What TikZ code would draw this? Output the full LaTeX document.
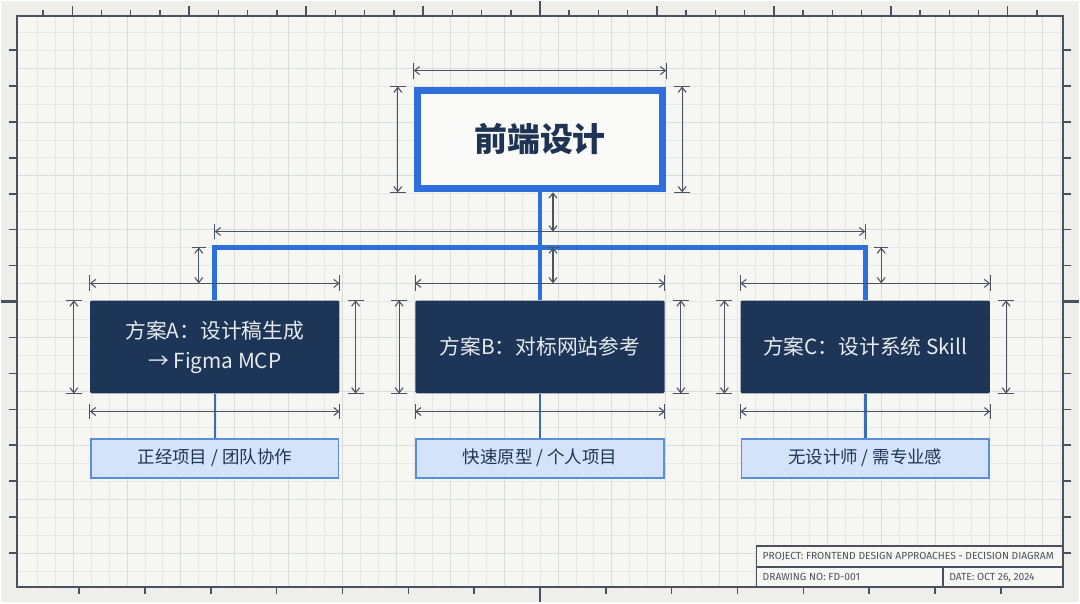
\documentclass[tikz,border=0pt]{standalone}
\usepackage{fontspec}
\setmainfont{Noto Sans CJK SC}
\newfontfamily\blockfont{Fira Sans}
\usetikzlibrary{arrows.meta,positioning,calc}
\definecolor{paper}{HTML}{F6F6F2}
\definecolor{margin}{HTML}{EEEEEA}
\definecolor{gridgray}{HTML}{E5E7E5}
\definecolor{gridmajor}{HTML}{D9DCDC}
\definecolor{framegray}{HTML}{4A5261}
\definecolor{dimgray}{HTML}{4B5362}
\definecolor{accent}{HTML}{2E6FDC}
\definecolor{navy}{HTML}{1D3557}
\definecolor{titlenavy}{HTML}{1F3455}
\definecolor{paleblue}{HTML}{D2E3FA}
\definecolor{lineblue}{HTML}{5A8EDB}
\definecolor{stemblue}{HTML}{3B6CB4}

% dimension lines between two named coordinates
\newcommand{\dimh}[2]{%
  \draw[dimline] (#1) -- (#2);
  \draw[dimbar] ([yshift=8]#1) -- ([yshift=-8]#1) ([yshift=8]#2) -- ([yshift=-8]#2);}
\newcommand{\dimv}[2]{%
  \draw[dimline] (#1) -- (#2);
  \draw[dimbar] ([xshift=-8]#1) -- ([xshift=8]#1) ([xshift=-8]#2) -- ([xshift=8]#2);}
\newcommand{\dimvtop}[2]{%
  \draw[dimline] (#1) -- (#2);
  \draw[dimbar] ([xshift=-7]#1) -- ([xshift=7]#1);}

\begin{document}
\begin{tikzpicture}[x=1pt,y=-1pt,
  every node/.style={inner sep=0pt},
  rootbox/.style={rectangle,draw=accent,line width=7pt,fill=paper!50!white,minimum width=246pt,minimum height=99pt,font=\fontsize{33}{38}\selectfont\bfseries,text=titlenavy},
  planbox/.style={rectangle,rounded corners=2pt,fill=navy,minimum width=250pt,minimum height=93pt,align=center,font=\fontsize{20.8}{30}\selectfont,text=white!90!navy},
  usebox/.style={rectangle,draw=lineblue,line width=1.8pt,fill=paleblue,minimum width=248pt,minimum height=39pt,font=\fontsize{17.5}{20}\selectfont,text=titlenavy},
  bus/.style={draw=accent,line width=5pt},
  stem/.style={draw=stemblue,line width=2.5pt},
  dimline/.style={draw=dimgray,line width=1.1pt,{Straight Barb[length=5pt,width=8pt]}-{Straight Barb[length=5pt,width=8pt]}},
  dimbar/.style={draw=dimgray,line width=1.1pt},
  gridline/.style={draw=gridgray,line width=0.8pt},
  gridline major/.style={draw=gridmajor,line width=0.9pt},
  frameline/.style={draw=framegray,line width=2pt},
  blocktext/.style={font=\blockfont\fontsize{10.3}{12}\selectfont,text=framegray,anchor=west}
]
% sheet, grid and frame
\fill[margin] (0,0) rectangle (1080,602);
\fill[paper] (16,15) rectangle (1064,587);
\foreach \gx in {36,54,...,1062} \draw[gridline] (\gx,15) -- (\gx,587);
\foreach \gy in {31,49,...,571} \draw[gridline] (16,\gy) -- (1064,\gy);
\foreach \gx in {72,126,...,1062} \draw[gridline major] (\gx,15) -- (\gx,587);
\foreach \gy in {67,121,...,571} \draw[gridline major] (16,\gy) -- (1064,\gy);
\draw[frameline] (16,15) rectangle (1064,587);
\foreach \k in {-17,...,17} \draw[frameline,line width=1.5pt] (540+29.3*\k,15) -- ++(0,-6);
\foreach \k in {-4,...,4} \draw[frameline,line width=1.5pt] (540+117.2*\k,15) -- ++(0,-10);
\foreach \k in {-7,...,7} \draw[frameline,line width=1.5pt] (540+66*\k,587) -- ++(0,7);
\foreach \k in {-7,...,7} {
  \draw[frameline,line width=1.5pt] (16,301+36*\k) -- ++(-8,0);
  \draw[frameline,line width=1.5pt] (1064,301+36*\k) -- ++(8,0);
}
\draw[frameline,line width=2.5pt] (540,0) -- (540,15) (540,587) -- (540,602) (0,301) -- (16,301) (1064,301) -- (1080,301);

% boxes
\node[rootbox] (root) at (540,138.5) {前端设计};
\node[planbox] (planA) at (214,346.5) {方案A：设计稿生成\\→ Figma MCP};
\node[planbox] (planB) at (540,346.5) {方案B：对标网站参考};
\node[planbox] (planC) at (866,346.5) {方案C：设计系统 Skill};
\node[usebox] (useA) at (214,458) {正经项目 / 团队协作};
\node[usebox] (useB) at (540,458) {快速原型 / 个人项目};
\node[usebox] (useC) at (866,458) {无设计师 / 需专业感};

% connectors
\coordinate (bus) at (540,247);
\draw[bus] (root.south) -- (bus);
\draw[bus] (planA.north) |- (bus) -| (planC.north);
\draw[bus] (bus) -- (planB.north);
\foreach \p in {A,B,C} \draw[stem] (plan\p.south) -- (use\p.north);

% dimensions
\coordinate (rt1) at ([yshift=16]root.north west);
\coordinate (rt2) at ([yshift=16]root.north east);
\dimh{rt1}{rt2}
\coordinate (rl1) at ([xshift=-16]root.north west);
\coordinate (rl2) at ([xshift=-16]root.south west);
\dimv{rl1}{rl2}
\coordinate (rr1) at ([xshift=16]root.north east);
\coordinate (rr2) at ([xshift=16]root.south east);
\dimv{rr1}{rr2}
\coordinate (rs1) at ([xshift=13]root.south);
\coordinate (rs2) at ([xshift=13,yshift=69]planB.north);
\draw[dimline] (rs1) -- (rs2);
\coordinate (bd1) at ([yshift=69]planA.north);
\coordinate (bd2) at ([yshift=69]planC.north);
\dimh{bd1}{bd2}
\foreach \p/\dx in {planA/-16,planB/13,planC/16} {
  \coordinate (\p-s1) at ([xshift=\dx,yshift=53]\p.north);
  \coordinate (\p-s2) at ([xshift=\dx,yshift=17]\p.north);
  \dimvtop{\p-s1}{\p-s2}
}
\foreach \p in {planA,planB,planC} {
  \coordinate (\p-t1) at ([yshift=17]\p.north west);
  \coordinate (\p-t2) at ([yshift=17]\p.north east);
  \dimh{\p-t1}{\p-t2}
  \coordinate (\p-b1) at ([yshift=-18]\p.south west);
  \coordinate (\p-b2) at ([yshift=-18]\p.south east);
  \dimh{\p-b1}{\p-b2}
  \coordinate (\p-l1) at ([xshift=-16]\p.north west);
  \coordinate (\p-l2) at ([xshift=-16]\p.south west);
  \dimv{\p-l1}{\p-l2}
  \coordinate (\p-r1) at ([xshift=16]\p.north east);
  \coordinate (\p-r2) at ([xshift=16]\p.south east);
  \dimv{\p-r1}{\p-r2}
}

% title block
\draw[frameline,line width=1.5pt,fill=paper] (757,546) rectangle (1064,587);
\draw[frameline,line width=1.5pt] (757,567) -- (1064,567) (944,567) -- (944,587);
\node[blocktext] (tbproject) at (763,557) {PROJECT: FRONTEND DESIGN APPROACHES - DECISION DIAGRAM};
\node[blocktext] (tbdrawing) at (763,577.5) {DRAWING NO: FD-001};
\node[blocktext] (tbdate) at (950,577.5) {DATE: OCT 26, 2024};
\end{tikzpicture}
\end{document}
